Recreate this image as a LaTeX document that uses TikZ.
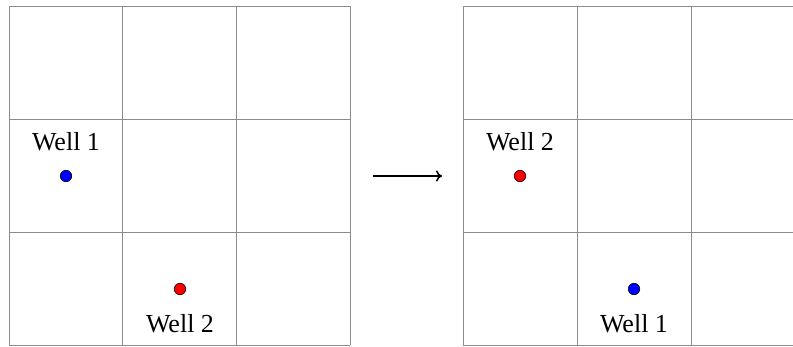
\documentclass[tikz,border=0pt]{standalone}
\usepackage{fontspec}
\setmainfont{Liberation Serif}
\usetikzlibrary{arrows.meta}
\begin{document}
\begin{tikzpicture}[x=1pt,y=-1pt,
  gridline/.style={draw=black!45,line width=0.9pt},
  well/.style={circle,draw=black,line width=0.6pt,inner sep=0pt,minimum size=11.5pt},
  lbl/.style={font=\fontsize{26}{30}\selectfont,inner sep=0pt}]
\useasboundingbox (0,0) rectangle (793,347);
% left grid
\foreach \i in {0,1,2,3}{
  \draw[gridline] ({9+113.67*\i},6) -- ({9+113.67*\i},345);
  \draw[gridline] (9,{6+113*\i}) -- (350,{6+113*\i});
}
% right grid
\begin{scope}
\clip (0,0) rectangle (793,347);
\foreach \i in {0,1,2,3}{
  \draw[gridline] ({463+114*\i},6) -- ({463+114*\i},345);
  \draw[gridline] (463,{6+113*\i}) -- (805,{6+113*\i});
}
\end{scope}
% left wells
\node[well,fill=blue] (w1a) at (66,176) {};
\node[lbl] (l1a) at (66,142) {Well 1};
\node[well,fill=red] (w2a) at (180,289) {};
\node[lbl] (l2a) at (180,324) {Well 2};
% right wells
\node[well,fill=red] (w2b) at (520,176) {};
\node[lbl] (l2b) at (520,142) {Well 2};
\node[well,fill=blue] (w1b) at (634,289) {};
\node[lbl] (l1b) at (634,324) {Well 1};
% arrow
\coordinate (as) at (373,176);
\coordinate (ae) at (442,176);
\draw[line width=1.6pt,-{To[length=6pt,width=11pt]}] (as) -- (ae);
\end{tikzpicture}
\end{document}
